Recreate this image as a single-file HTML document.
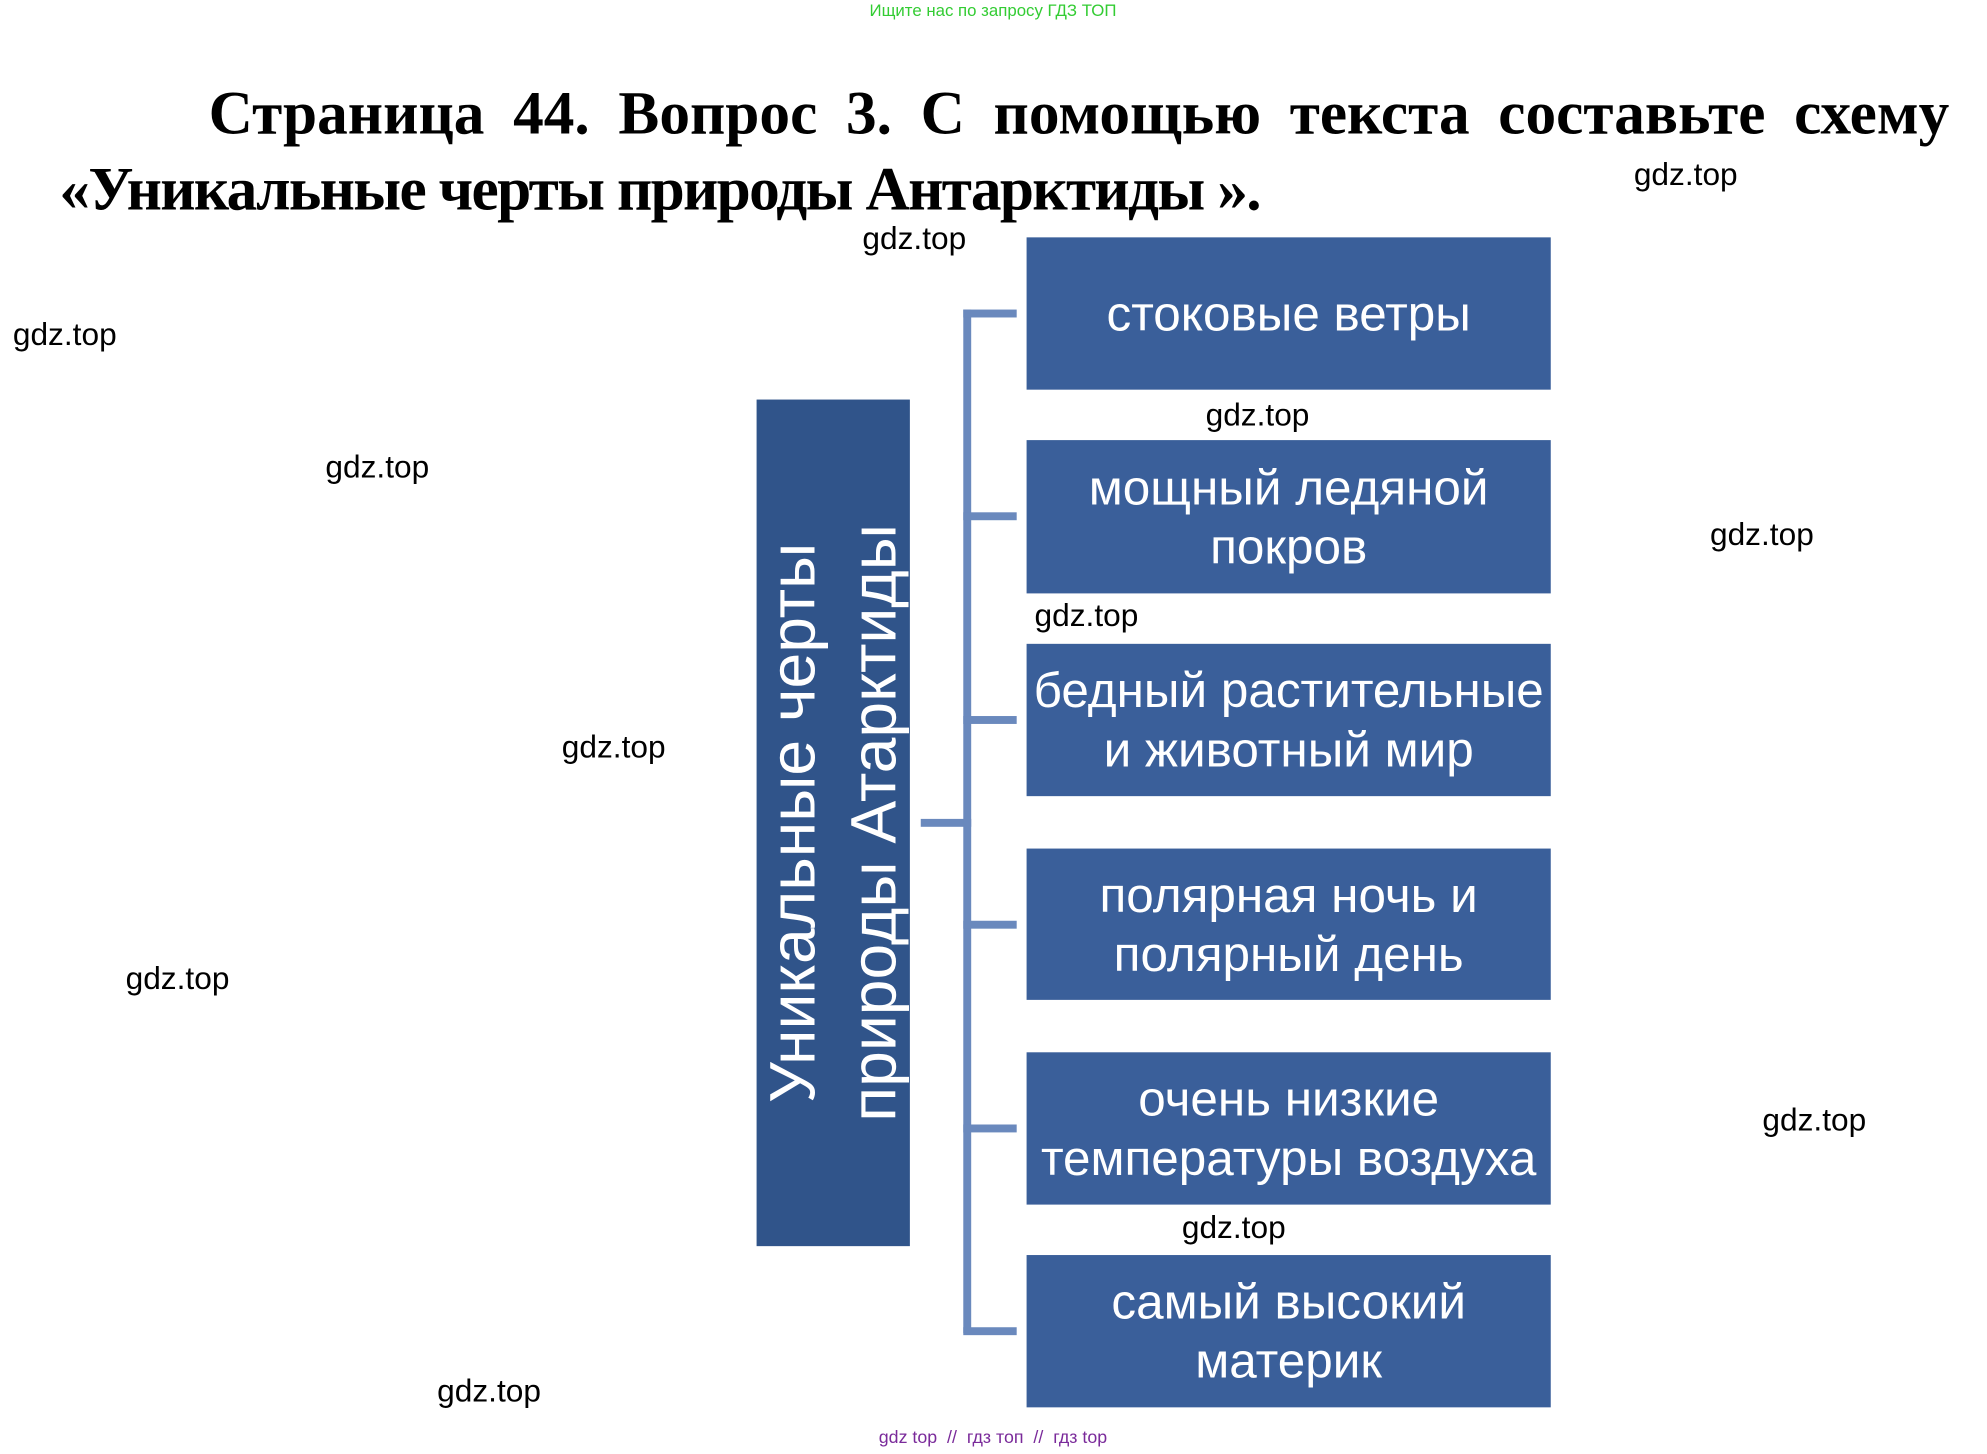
<!DOCTYPE html>
<html><head><meta charset="utf-8"><style>
body{margin:0;width:1987px;height:1452px;background:#fff;position:relative;overflow:hidden;font-family:"Liberation Sans",sans-serif}
#c{position:absolute;left:0;top:0;width:2010px;height:1470px;transform:scale(0.989);transform-origin:0 0}
.a{position:absolute}
.t{font-family:"Liberation Serif",serif;font-weight:bold;font-size:62px;color:#000;white-space:nowrap}
.w{position:absolute;font-size:32px;color:#000;line-height:1}
.b{position:absolute;left:1038px;width:530px;background:#3a5f9a;color:#fff;font-size:50px;line-height:60px;text-align:center;display:flex;align-items:center;justify-content:center;white-space:nowrap}
.l{position:absolute;background:#6a89bd}
</style></head><body><div id="c">
<div class="a" style="left:0;width:2008px;top:1px;text-align:center;color:#33cc33;font-size:17px">Ищите нас по запросу ГДЗ ТОП</div>
<div class="a t" style="left:211px;top:80px;width:1760px;display:flex;justify-content:space-between"><span>Страница</span><span>44.</span><span>Вопрос</span><span>3.</span><span>С</span><span>помощью</span><span>текста</span><span>составьте</span><span>схему</span></div>
<div class="a t" style="left:60px;top:157px;letter-spacing:-1.7px">«Уникальные черты природы Антарктиды ».</div>

<div class="a" style="left:765px;top:404px;width:155px;height:856px;background:#30548a"></div>
<div class="a" style="left:842px;top:832px;width:856px;height:155px;transform:translate(-50%,-50%) rotate(-90deg);color:#fff;font-size:65px;line-height:82px;text-align:center;display:flex;align-items:center;justify-content:center;white-space:nowrap">Уникальные черты<br>природы Атарктиды</div>

<div class="l" style="left:931px;top:828px;width:51px;height:8px"></div>
<div class="l" style="left:974px;top:313px;width:8px;height:1035px"></div>
<div class="l" style="left:974px;top:313px;width:54px;height:8px"></div>
<div class="l" style="left:974px;top:518px;width:54px;height:8px"></div>
<div class="l" style="left:974px;top:724px;width:54px;height:8px"></div>
<div class="l" style="left:974px;top:931px;width:54px;height:8px"></div>
<div class="l" style="left:974px;top:1137px;width:54px;height:8px"></div>
<div class="l" style="left:974px;top:1342px;width:54px;height:8px"></div>

<div class="b" style="top:240px;height:154px">стоковые ветры</div>
<div class="b" style="top:445px;height:155px">мощный ледяной<br>покров</div>
<div class="b" style="top:651px;height:154px">бедный растительные<br>и животный мир</div>
<div class="b" style="top:858px;height:153px">полярная ночь и<br>полярный день</div>
<div class="b" style="top:1064px;height:154px">очень низкие<br>температуры воздуха</div>
<div class="b" style="top:1269px;height:154px">самый высокий<br>материк</div>

<div class="w" style="left:872px;top:225px">gdz.top</div>
<div class="w" style="left:1652px;top:160px">gdz.top</div>
<div class="w" style="left:13px;top:322px">gdz.top</div>
<div class="w" style="left:1219px;top:403px">gdz.top</div>
<div class="w" style="left:329px;top:456px">gdz.top</div>
<div class="w" style="left:1729px;top:524px">gdz.top</div>
<div class="w" style="left:1046px;top:606px">gdz.top</div>
<div class="w" style="left:568px;top:739px">gdz.top</div>
<div class="w" style="left:127px;top:973px">gdz.top</div>
<div class="w" style="left:1782px;top:1116px">gdz.top</div>
<div class="w" style="left:1195px;top:1225px">gdz.top</div>
<div class="w" style="left:442px;top:1390px">gdz.top</div>
<div class="a" style="left:0;width:2008px;top:1443px;text-align:center;color:#7a2a9a;font-size:18px">gdz top &nbsp;// &nbsp;гдз топ &nbsp;// &nbsp;гдз top</div>
</div></body></html>
